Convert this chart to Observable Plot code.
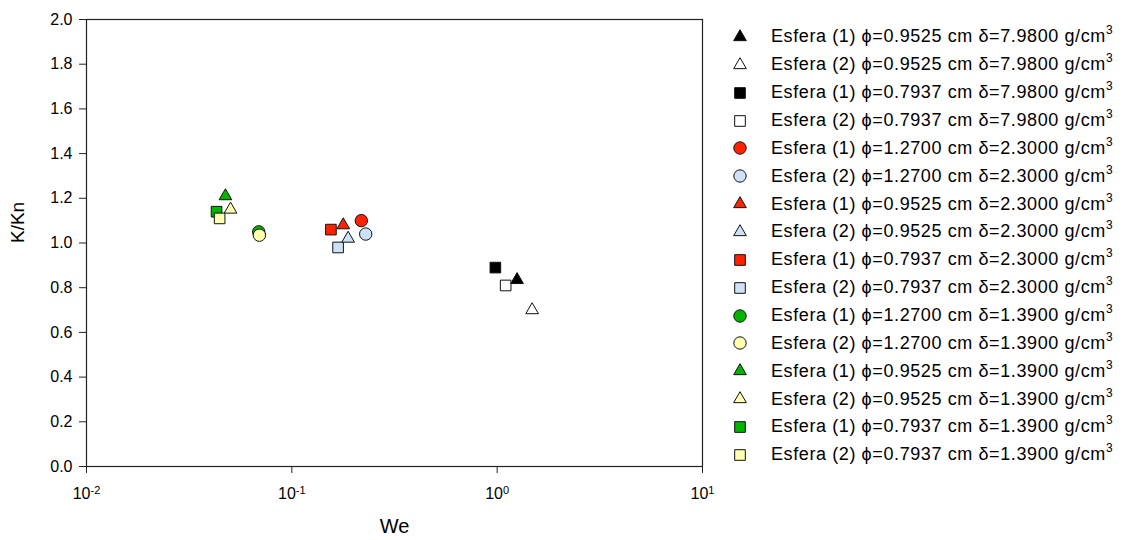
<!DOCTYPE html>
<html>
<head>
<meta charset="utf-8">
<script src="https://cdn.jsdelivr.net/npm/d3@7"></script>
<script src="https://cdn.jsdelivr.net/npm/@observablehq/plot@0.6"></script>
<style>
  html, body { margin: 0; padding: 0; background: #fff; }
  #wrap { position: relative; width: 1133px; height: 540px; font-family: "Liberation Sans", Arial, sans-serif; }
  #legend { position: absolute; left: 728px; top: 23px; }
  .row { display: flex; align-items: center; height: 27.87px; }
  .row svg { flex: none; }
  .row span { margin-left: 19px; font-size: 18px; letter-spacing: 0.6px; color: #000; white-space: nowrap; }
  .row sup { font-size: 12px; vertical-align: 0; position: relative; top: -8px; letter-spacing: 0; }
</style>
</head>
<body>
<div id="wrap"></div>
<script>
// ---- data ----
const esfera = [1, 2, 1, 2, 1, 2, 1, 2, 1, 2, 1, 2, 1, 2, 1, 2];
const phi = ["0.9525", "0.9525", "0.7937", "0.7937", "1.2700", "1.2700", "0.9525", "0.9525",
             "0.7937", "0.7937", "1.2700", "1.2700", "0.9525", "0.9525", "0.7937", "0.7937"];
const delta = ["7.9800", "7.9800", "7.9800", "7.9800", "2.3000", "2.3000", "2.3000", "2.3000",
               "2.3000", "2.3000", "1.3900", "1.3900", "1.3900", "1.3900", "1.3900", "1.3900"];
const symbols = ["triangle", "triangle", "square", "square", "circle", "circle", "triangle", "triangle",
                 "square", "square", "circle", "circle", "triangle", "triangle", "square", "square"];
const fills = ["#000000", "#ffffff", "#000000", "#ffffff", "#ff2200", "#cde1f7", "#ff2200", "#cde1f7",
               "#ff2200", "#cde1f7", "#00b400", "#ffffb0", "#00b400", "#ffffb0", "#00b400", "#ffffb0"];
const weValues = [1.25, 1.48, 0.98, 1.10, 0.218, 0.229, 0.178, 0.188,
                  0.155, 0.168, 0.069, 0.0695, 0.0475, 0.0503, 0.0430, 0.0445];
const kknValues = [0.835, 0.70, 0.89, 0.81, 1.10, 1.04, 1.08, 1.02,
                   1.06, 0.98, 1.05, 1.035, 1.21, 1.15, 1.14, 1.11];
const xTicks = [0.01, 0.1, 1, 10];
const yTicks = [0, 0.2, 0.4, 0.6, 0.8, 1.0, 1.2, 1.4, 1.6, 1.8, 2.0];
const xTitle = "We";
const yTitle = "K/Kn";

const symbolRadius = {triangle: 4.7, square: 6, circle: 6.2};

const data = esfera.map((e, i) => ({
  esfera: e, phi: phi[i], delta: delta[i], symbol: symbols[i], fill: fills[i],
  we: weValues[i], k: kknValues[i], r: symbolRadius[symbols[i]]
}));

const chart = Plot.plot({
  width: 1133,
  height: 540,
  marginLeft: 86,
  marginRight: 431,
  marginTop: 19,
  marginBottom: 74,
  style: {fontFamily: '"Liberation Sans", Arial, sans-serif', background: "#fff", color: "#000"},
  x: {type: "log", domain: [0.01, 10]},
  y: {domain: [0, 2]},
  symbol: {domain: ["triangle", "square", "circle"], range: ["triangle", "square", "circle"]},
  r: {type: "identity"},
  marks: [
    Plot.axisX({ticks: xTicks, tickSize: 7, tickPadding: 14, fontSize: 16, stroke: "#222",
      tickFormat: d => String(Math.round(Math.log10(d))), label: null}),
    Plot.axisY({ticks: yTicks, tickSize: 7, tickPadding: 7, fontSize: 16, stroke: "#222",
      tickFormat: d3.format(".1f"), label: null}),
    Plot.frame({stroke: "#222", strokeWidth: 1.2}),
    Plot.dot(data, {x: "we", y: "k", symbol: "symbol", fill: "fill", r: "r",
      stroke: "#111", strokeWidth: 1}),
    Plot.text([xTitle], {frameAnchor: "bottom", dy: 66, fontSize: 20, text: d => d, fill: "#000"}),
    Plot.text([yTitle], {frameAnchor: "left", dx: -69, rotate: -90, fontSize: 19, text: d => d, fill: "#000"})
  ]
});

// superscript exponents on the log tick labels
d3.select(chart).selectAll('g[aria-label="x-axis tick label"] text').each(function() {
  const t = d3.select(this);
  const e = t.text();
  t.text("");
  t.append("tspan").text("10");
  t.append("tspan").attr("dy", "-0.45em").attr("font-size", "11px").text(e);
});

const wrap = document.getElementById("wrap");
wrap.appendChild(chart);

// legend
const legend = d3.select(wrap).append("div").attr("id", "legend");
data.forEach(d => {
  const row = legend.append("div").attr("class", "row");
  const svg = row.append("svg").attr("width", 24).attr("height", 24);
  const type = d.symbol === "triangle" ? d3.symbolTriangle : d.symbol === "square" ? d3.symbolSquare : d3.symbolCircle;
  svg.append("path")
    .attr("transform", "translate(12,12)")
    .attr("d", d3.symbol(type, Math.PI * d.r * d.r)())
    .attr("fill", d.fill).attr("stroke", "#111").attr("stroke-width", 1);
  row.append("span").html(`Esfera (${d.esfera}) \u03D5=${d.phi} cm \u03B4=${d.delta} g/cm<sup>3</sup>`);
});
</script>
</body>
</html>
